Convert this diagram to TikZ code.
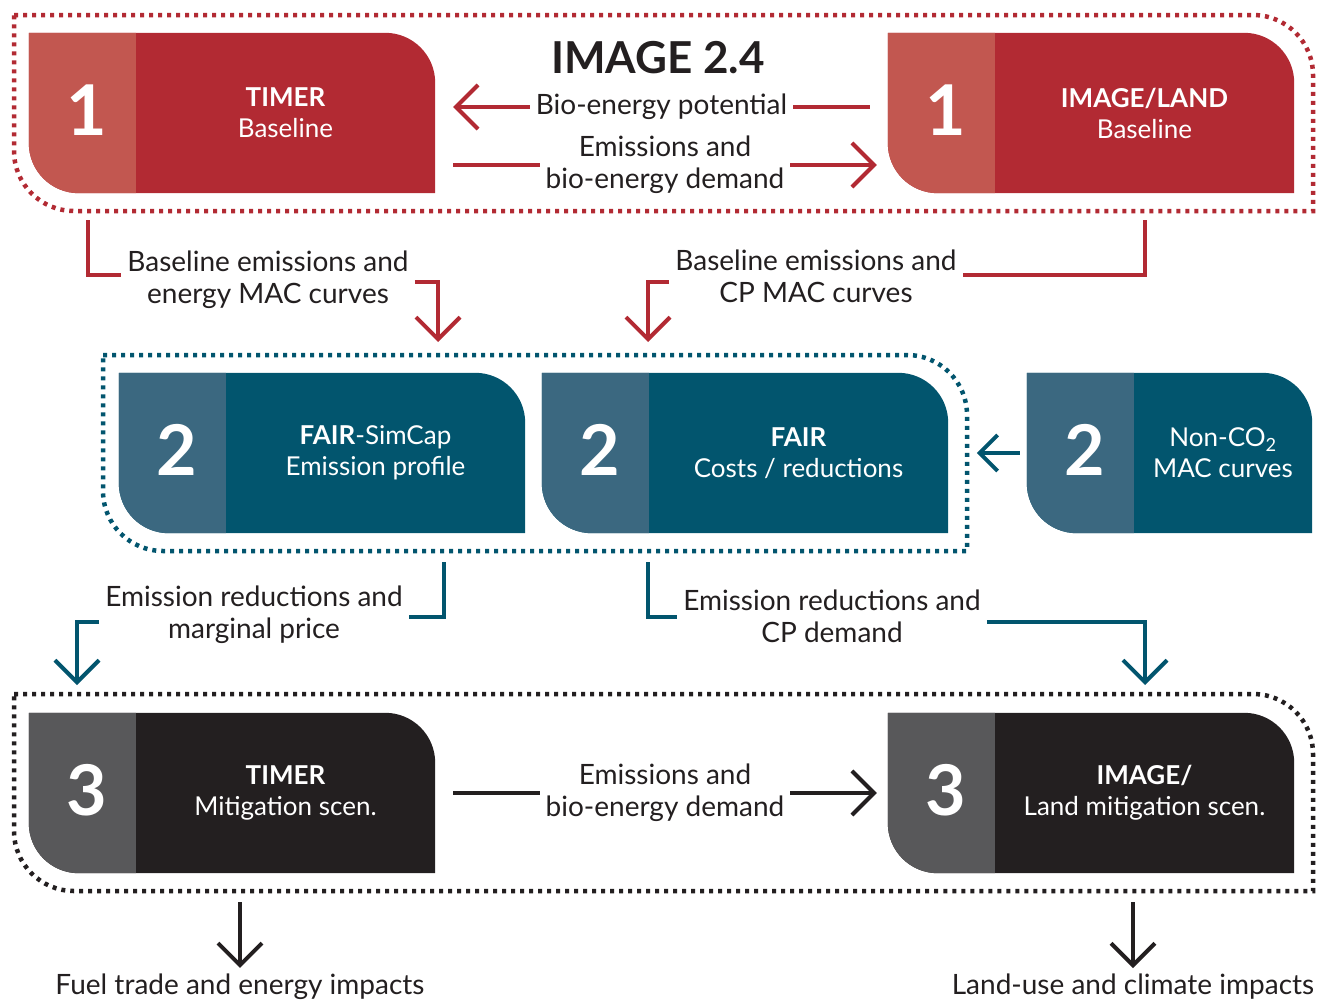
\documentclass[tikz,border=0pt]{standalone}
\usepackage{fontspec}
\setmainfont{Lato}
\usetikzlibrary{arrows.meta, positioning, calc}
\definecolor{modred}{RGB}{178,42,51}
\definecolor{modredlt}{RGB}{194,87,80}
\definecolor{modteal}{RGB}{2,85,110}
\definecolor{modteallt}{RGB}{59,104,128}
\definecolor{modblack}{RGB}{35,31,32}
\definecolor{modgray}{RGB}{88,88,90}

% panel: name, centre, width, strip colour, main colour, digit, text
\newcommand{\panel}[7]{%
  \node[panelbox, minimum width=#3] (#1) at #2 {};
  \fill[#5] (#1.north west) -- ([xshift=-50pt]#1.north east)
    arc[start angle=90, end angle=0, radius=50pt] -- (#1.south east)
    -- ([xshift=50pt]#1.south west) arc[start angle=270, end angle=180, radius=50pt] -- cycle;
  \fill[#4] (#1.north west) -- ([xshift=107pt]#1.north west)
    -- ([xshift=107pt]#1.south west) -- ([xshift=50pt]#1.south west)
    arc[start angle=270, end angle=180, radius=50pt] -- cycle;
  \node[digit] (#1-num) at ([xshift=58pt, yshift=3pt]#1.west) {#6};
  \node[paneltext] (#1-txt) at ($([xshift=107pt]#1.west)!0.5!(#1.east)$) {#7};
}

\begin{document}
\begin{tikzpicture}[
  x=1pt, y=1pt,
  panelbox/.style={rectangle, inner sep=0pt, minimum height=160pt},
  digit/.style={text=white, font=\fontsize{70}{70}\selectfont\bfseries},
  paneltext/.style={text=white, align=center, font=\fontsize{26}{31}\selectfont},
  lbl/.style={text=modblack, align=center, fill=white, inner sep=6pt,
              font=\fontsize{28}{32}\selectfont},
  frame/.style={line width=4.5pt, dash pattern=on 4pt off 5pt},
  link/.style={line width=4pt},
  barb/.style={-{Straight Barb[length=22pt, width=44pt]}}
]
\useasboundingbox (0,0) rectangle (1322,-1001);

% dotted frames
\draw[frame, modred] (14,-15) -- (1253,-15) arc[start angle=90, end angle=0, radius=60pt]
  -- (1313,-211) -- (74,-211) arc[start angle=270, end angle=180, radius=60pt] -- cycle;
\draw[frame, modteal] (103,-355) -- (907,-355) arc[start angle=90, end angle=0, radius=60pt]
  -- (967,-551) -- (163,-551) arc[start angle=270, end angle=180, radius=60pt] -- cycle;
\draw[frame, modblack] (14,-694) -- (1253,-694) arc[start angle=90, end angle=0, radius=60pt]
  -- (1313,-891) -- (74,-891) arc[start angle=270, end angle=180, radius=60pt] -- cycle;

\node[text=modblack, font=\fontsize{44}{44}\selectfont\bfseries] (title) at (658,-58) {IMAGE 2.4};

% Step 1
\panel{timerA}{(232,-113)}{406pt}{modredlt}{modred}{1}{\textbf{TIMER}\\Baseline}
\panel{landA}{(1091,-113)}{406pt}{modredlt}{modred}{1}{\textbf{IMAGE/LAND}\\Baseline}

% Step 2
\panel{simcap}{(322,-453)}{406pt}{modteallt}{modteal}{2}{\textbf{FAIR}-SimCap\\Emission profile}
\panel{fair}{(745,-453)}{406pt}{modteallt}{modteal}{2}{\textbf{FAIR}\\Costs / reductions}
\panel{nonco}{(1169.5,-453)}{285pt}{modteallt}{modteal}{2}{Non-CO\textsubscript{2}\\MAC curves}

% Step 3
\panel{timerB}{(232,-793)}{406pt}{modgray}{modblack}{3}{\textbf{TIMER}\\Mitigation scen.}
\panel{landB}{(1091,-793)}{406pt}{modgray}{modblack}{3}{\textbf{IMAGE/}\\Land mitigation scen.}

% exchange within step 1
\draw[link, modred, barb] ([xshift=-18pt, yshift=6pt]landA.west)
  -- node[lbl] {Bio-energy potential} ([xshift=18pt, yshift=6pt]timerA.east);
\draw[link, modred, barb] ([xshift=18pt, yshift=-52pt]timerA.east)
  -- node[lbl] {Emissions and\\bio-energy demand} ([xshift=-11pt, yshift=-52pt]landA.west);

% step 1 to step 2
\coordinate (redL) at (88,-220);
\coordinate (redR) at (1145,-220);
\coordinate (simcapIn) at (438,-342);
\coordinate (fairIn) at (648,-342);
\node[lbl] (baseA) at (268,-280) {Baseline emissions and\\energy MAC curves};
\node[lbl] (baseB) at (816,-276) {Baseline emissions and\\CP MAC curves};
\draw[link, modred] (redL) |- ([yshift=5pt]baseA.west);
\draw[link, modred, barb] ([yshift=-2pt]baseA.east) -| (simcapIn);
\draw[link, modred] (redR) |- ([yshift=1pt]baseB.east);
\draw[link, modred, barb] ([yshift=-6pt]baseB.west) -| (fairIn);

\draw[link, modteal, -{Straight Barb[length=18pt, width=36pt]}]
  ([xshift=-7pt]nonco.west) -- ([xshift=-50pt]nonco.west);

% step 2 to step 3
\coordinate (tealL) at (444,-562);
\coordinate (tealR) at (648,-562);
\coordinate (timerBIn) at (77,-685);
\coordinate (landBIn) at (1145,-685);
\node[lbl] (redA) at (254,-615) {Emission reductions and\\marginal price};
\node[lbl] (redB) at (832,-616) {Emission reductions and\\CP demand};
\draw[link, modteal] (tealL) |- ([yshift=-2pt]redA.east);
\draw[link, modteal, barb] ([yshift=-7pt]redA.west) -| (timerBIn);
\draw[link, modteal] (tealR) |- ([yshift=-1pt]redB.west);
\draw[link, modteal, barb] ([yshift=-6pt]redB.east) -| (landBIn);

% exchange within step 3
\draw[link, modblack, barb] ([xshift=18pt]timerB.east)
  -- node[lbl] {Emissions and\\bio-energy demand} ([xshift=-11pt]landB.west);

% impacts
\coordinate (fuelOut) at (240,-902);
\coordinate (landOut) at (1133,-902);
\node[lbl] (fuel) at (240,-987) {Fuel trade and energy impacts};
\node[lbl] (climate) at (1133,-987) {Land-use and climate impacts};
\draw[link, modblack, barb] (fuelOut) -- (fuel.north);
\draw[link, modblack, barb] (landOut) -- (climate.north);

\end{tikzpicture}
\end{document}
